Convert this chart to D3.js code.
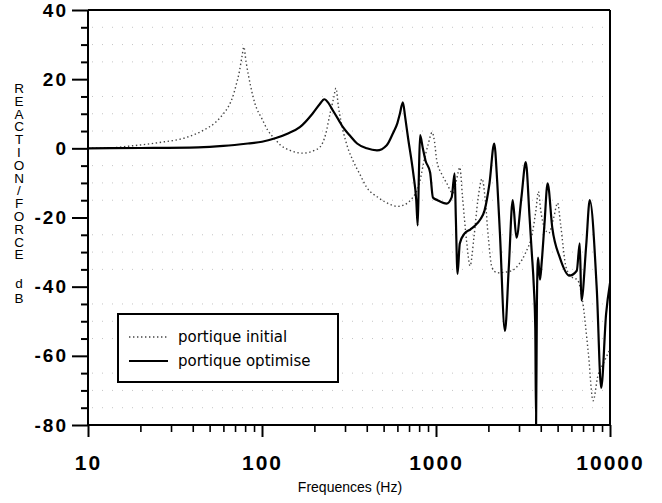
<!DOCTYPE html>
<html><head><meta charset="utf-8">
<script src="https://cdn.jsdelivr.net/npm/d3@7/dist/d3.min.js"></script>
<style>
html,body{margin:0;padding:0;background:#fff;}
svg{display:block;}
</style></head>
<body>
<svg id="chart" width="662" height="503"></svg>
<script>
// ---- data ----
const yTicks = [-80, -60, -40, -20, 0, 20, 40];
const xTicks = [10, 100, 1000, 10000];
const xLabel = "Frequences (Hz)";
const yLabelTop = "REACTION/FORCE";
const yLabelUnit = "dB";
const seriesNames = ["portique initial", "portique optimise"];

const freqInitial = [10,14,17,25,37,46,54,60,64,68,71,74,77,78.6,81,86,91,100,108,118,128,145,172,200,215,232,246,258,266,275,292,312,333,365,400,465,544,600,660,728,780,810,850,900,950,980,1010,1080,1150,1250,1300,1340,1370,1420,1500,1570,1650,1740,1840,1920,2000,2100,2250,2500,2720,3000,3250,3600,3750,3880,4000,4200,4450,4750,5000,5200,5600,6100,6500,6950,7500,8000,8500,9200,10000];
const dbInitial = [0,0.2,0.6,1.6,3.2,5.2,7.5,10,12,15,18.3,22,27,29.3,25,18,13,8.5,5.2,2.8,0.9,-0.6,-1.4,-0.6,0.3,4,10,14.5,17.4,12,5.2,0,-3.5,-7.5,-11.3,-14.2,-16.2,-16.8,-16.3,-14.5,-12,-9.3,-4,1,4.6,2,-3.5,-7.5,-10,-13,-10,-7,-5.5,-14,-27,-34,-26,-15,-8.8,-15,-26,-34.5,-36,-35.8,-35.4,-33.5,-30.5,-23.8,-18,-12.5,-18,-23,-24.5,-20,-15.8,-22,-34.5,-37.4,-38,-44,-59,-73,-66,-62,-58];

const freqOptim = [10,20,43,60,83,100,119,141,165,195,215,228,240,255,275,292,320,352,400,458,521,565,600,620,645,665,690,740,770,785,797,810,840,870,925,960,1020,1150,1230,1280,1300,1330,1370,1460,1580,1680,1800,1900,2030,2160,2250,2330,2490,2620,2760,2900,3100,3280,3450,3550,3650,3720,3760,3800,3860,3960,4050,4200,4380,4660,5150,5840,6440,6700,6850,7300,7650,8400,8900,9500,10000];
const dbOptim = [0,0.1,0.3,0.7,1.4,1.9,2.9,4.3,6.1,10,12.8,14.2,13.2,11,8.3,6.1,3.7,1.4,0,-0.6,0.9,4.3,7.3,10,13.3,9,3.2,-7.2,-15,-22.3,-8,3.8,0,-3.5,-7,-14.2,-15,-16,-14.2,-7.2,-20,-36.3,-27.5,-24.6,-23.4,-22.3,-20.5,-18,-10.1,1.4,-10,-24.6,-52.8,-34.5,-15,-25.8,-14,-4,-20,-30,-40,-52,-80,-45,-31.6,-38,-33,-22,-10.1,-23,-31.6,-36.8,-35.4,-27.5,-44,-28,-15,-41,-69.3,-47.8,-39];

// ---- chart ----
const svg = d3.select("#chart");
const x = d3.scaleLog().domain([10, 10000]).range([88, 610]);
const y = d3.scaleLinear().domain([-80, 40]).range([425, 10]);

// faint background grid dots
const gridVals = d3.range(-75, 40, 5).filter(v => v % 20 !== 0);
svg.append("g").selectAll("line").data(gridVals).join("line")
  .attr("x1", x(10) + 4).attr("x2", x(10000) - 4)
  .attr("y1", d => y(d)).attr("y2", d => y(d))
  .attr("stroke", "#c4c4c4").attr("stroke-width", 1)
  .attr("stroke-dasharray", "1,9");

// frame top/right
svg.append("line").attr("x1", x(10)).attr("x2", x(10000)).attr("y1", y(40)).attr("y2", y(40))
  .attr("stroke", "#000").attr("stroke-width", 2);
svg.append("line").attr("x1", x(10000)).attr("x2", x(10000)).attr("y1", y(40)).attr("y2", y(-80))
  .attr("stroke", "#000").attr("stroke-width", 2);

// axes
const tickFont = "'Liberation Sans', Arial, sans-serif";
const yMinor = d3.range(-80, 41, 5).filter(v => v % 20 !== 0);
svg.append("g").attr("transform", `translate(${x(10)},0)`)
  .call(d3.axisLeft(y).tickValues(yMinor).tickSize(7).tickFormat(""))
  .call(g => g.select(".domain").remove())
  .call(g => g.selectAll("line").attr("stroke-width", 2));
const gy = svg.append("g").attr("transform", `translate(${x(10)},0)`)
  .call(d3.axisLeft(y).tickValues(yTicks).tickSize(16).tickPadding(4).tickFormat(d => d));
gy.select(".domain").attr("stroke-width", 2).attr("d", `M0,${y(40)}V${y(-80)}`);
gy.selectAll("line").attr("stroke-width", 2);
gy.selectAll("text").attr("font-family", tickFont).attr("font-weight", "bold")
  .attr("font-size", 19).attr("letter-spacing", 2).attr("fill", "#000");

const xMinor = [];
[10, 100, 1000].forEach(d => { for (let k = 2; k <= 9; k++) xMinor.push(d * k); });
svg.append("g").attr("transform", `translate(0,${y(-80)})`)
  .call(d3.axisBottom(x).tickValues(xMinor).tickSize(7).tickFormat(""))
  .call(g => g.select(".domain").remove())
  .call(g => g.selectAll("line").attr("stroke-width", 1.6));
const gx = svg.append("g").attr("transform", `translate(0,${y(-80)})`)
  .call(d3.axisBottom(x).tickValues(xTicks).tickSize(12).tickPadding(18).tickFormat(d => d));
gx.select(".domain").attr("stroke-width", 2).attr("d", `M${x(10)},0H${x(10000)}`);
gx.selectAll("line").attr("stroke-width", 2);
gx.selectAll("text").attr("font-family", tickFont).attr("font-weight", "bold")
  .attr("font-size", 21).attr("letter-spacing", 2).attr("fill", "#000");

// axis titles
svg.append("text").attr("x", 350).attr("y", 492).attr("text-anchor", "middle")
  .attr("font-family", tickFont).attr("font-size", 14).text(xLabel);
const vstyle = "writing-mode: vertical-rl; text-orientation: upright;";
svg.append("text").attr("x", 19).attr("y", 81)
  .attr("style", vstyle + " letter-spacing: -2.2px;")
  .attr("font-family", tickFont).attr("font-size", 13.5).text(yLabelTop);
svg.append("text").attr("x", 19).attr("y", 276)
  .attr("style", vstyle + " letter-spacing: 0px;")
  .attr("font-family", tickFont).attr("font-size", 13.5).text(yLabelUnit);

// curves
const line = d3.line().x(d => x(d[0])).y(d => y(d[1])).curve(d3.curveMonotoneX);
const initial = freqInitial.map((f, i) => [f, dbInitial[i]]);
const optim = freqOptim.map((f, i) => [f, dbOptim[i]]);
svg.append("path").datum(initial).attr("d", line).attr("fill", "none")
  .attr("stroke", "#444").attr("stroke-width", 1.4).attr("stroke-dasharray", "1.4,2.6");
svg.append("path").datum(optim).attr("d", line).attr("fill", "none")
  .attr("stroke", "#000").attr("stroke-width", 2.2).attr("stroke-linejoin", "round");

// legend
const lg = svg.append("g");
lg.append("rect").attr("x", 118).attr("y", 314).attr("width", 220).attr("height", 68)
  .attr("fill", "#fff").attr("stroke", "#000").attr("stroke-width", 2);
const legFont = "'DejaVu Sans', sans-serif";
[[337, "1.4,2.6", "#444", 1.4], [361, null, "#000", 2]].forEach((s, i) => {
  const l = lg.append("line").attr("x1", 129).attr("x2", 168).attr("y1", s[0]).attr("y2", s[0])
    .attr("stroke", s[2]).attr("stroke-width", s[3]);
  if (s[1]) l.attr("stroke-dasharray", s[1]);
  lg.append("text").attr("x", 178).attr("y", s[0] + 5).attr("font-family", legFont)
    .attr("font-size", 15).text(seriesNames[i]);
});
</script>
</body></html>
